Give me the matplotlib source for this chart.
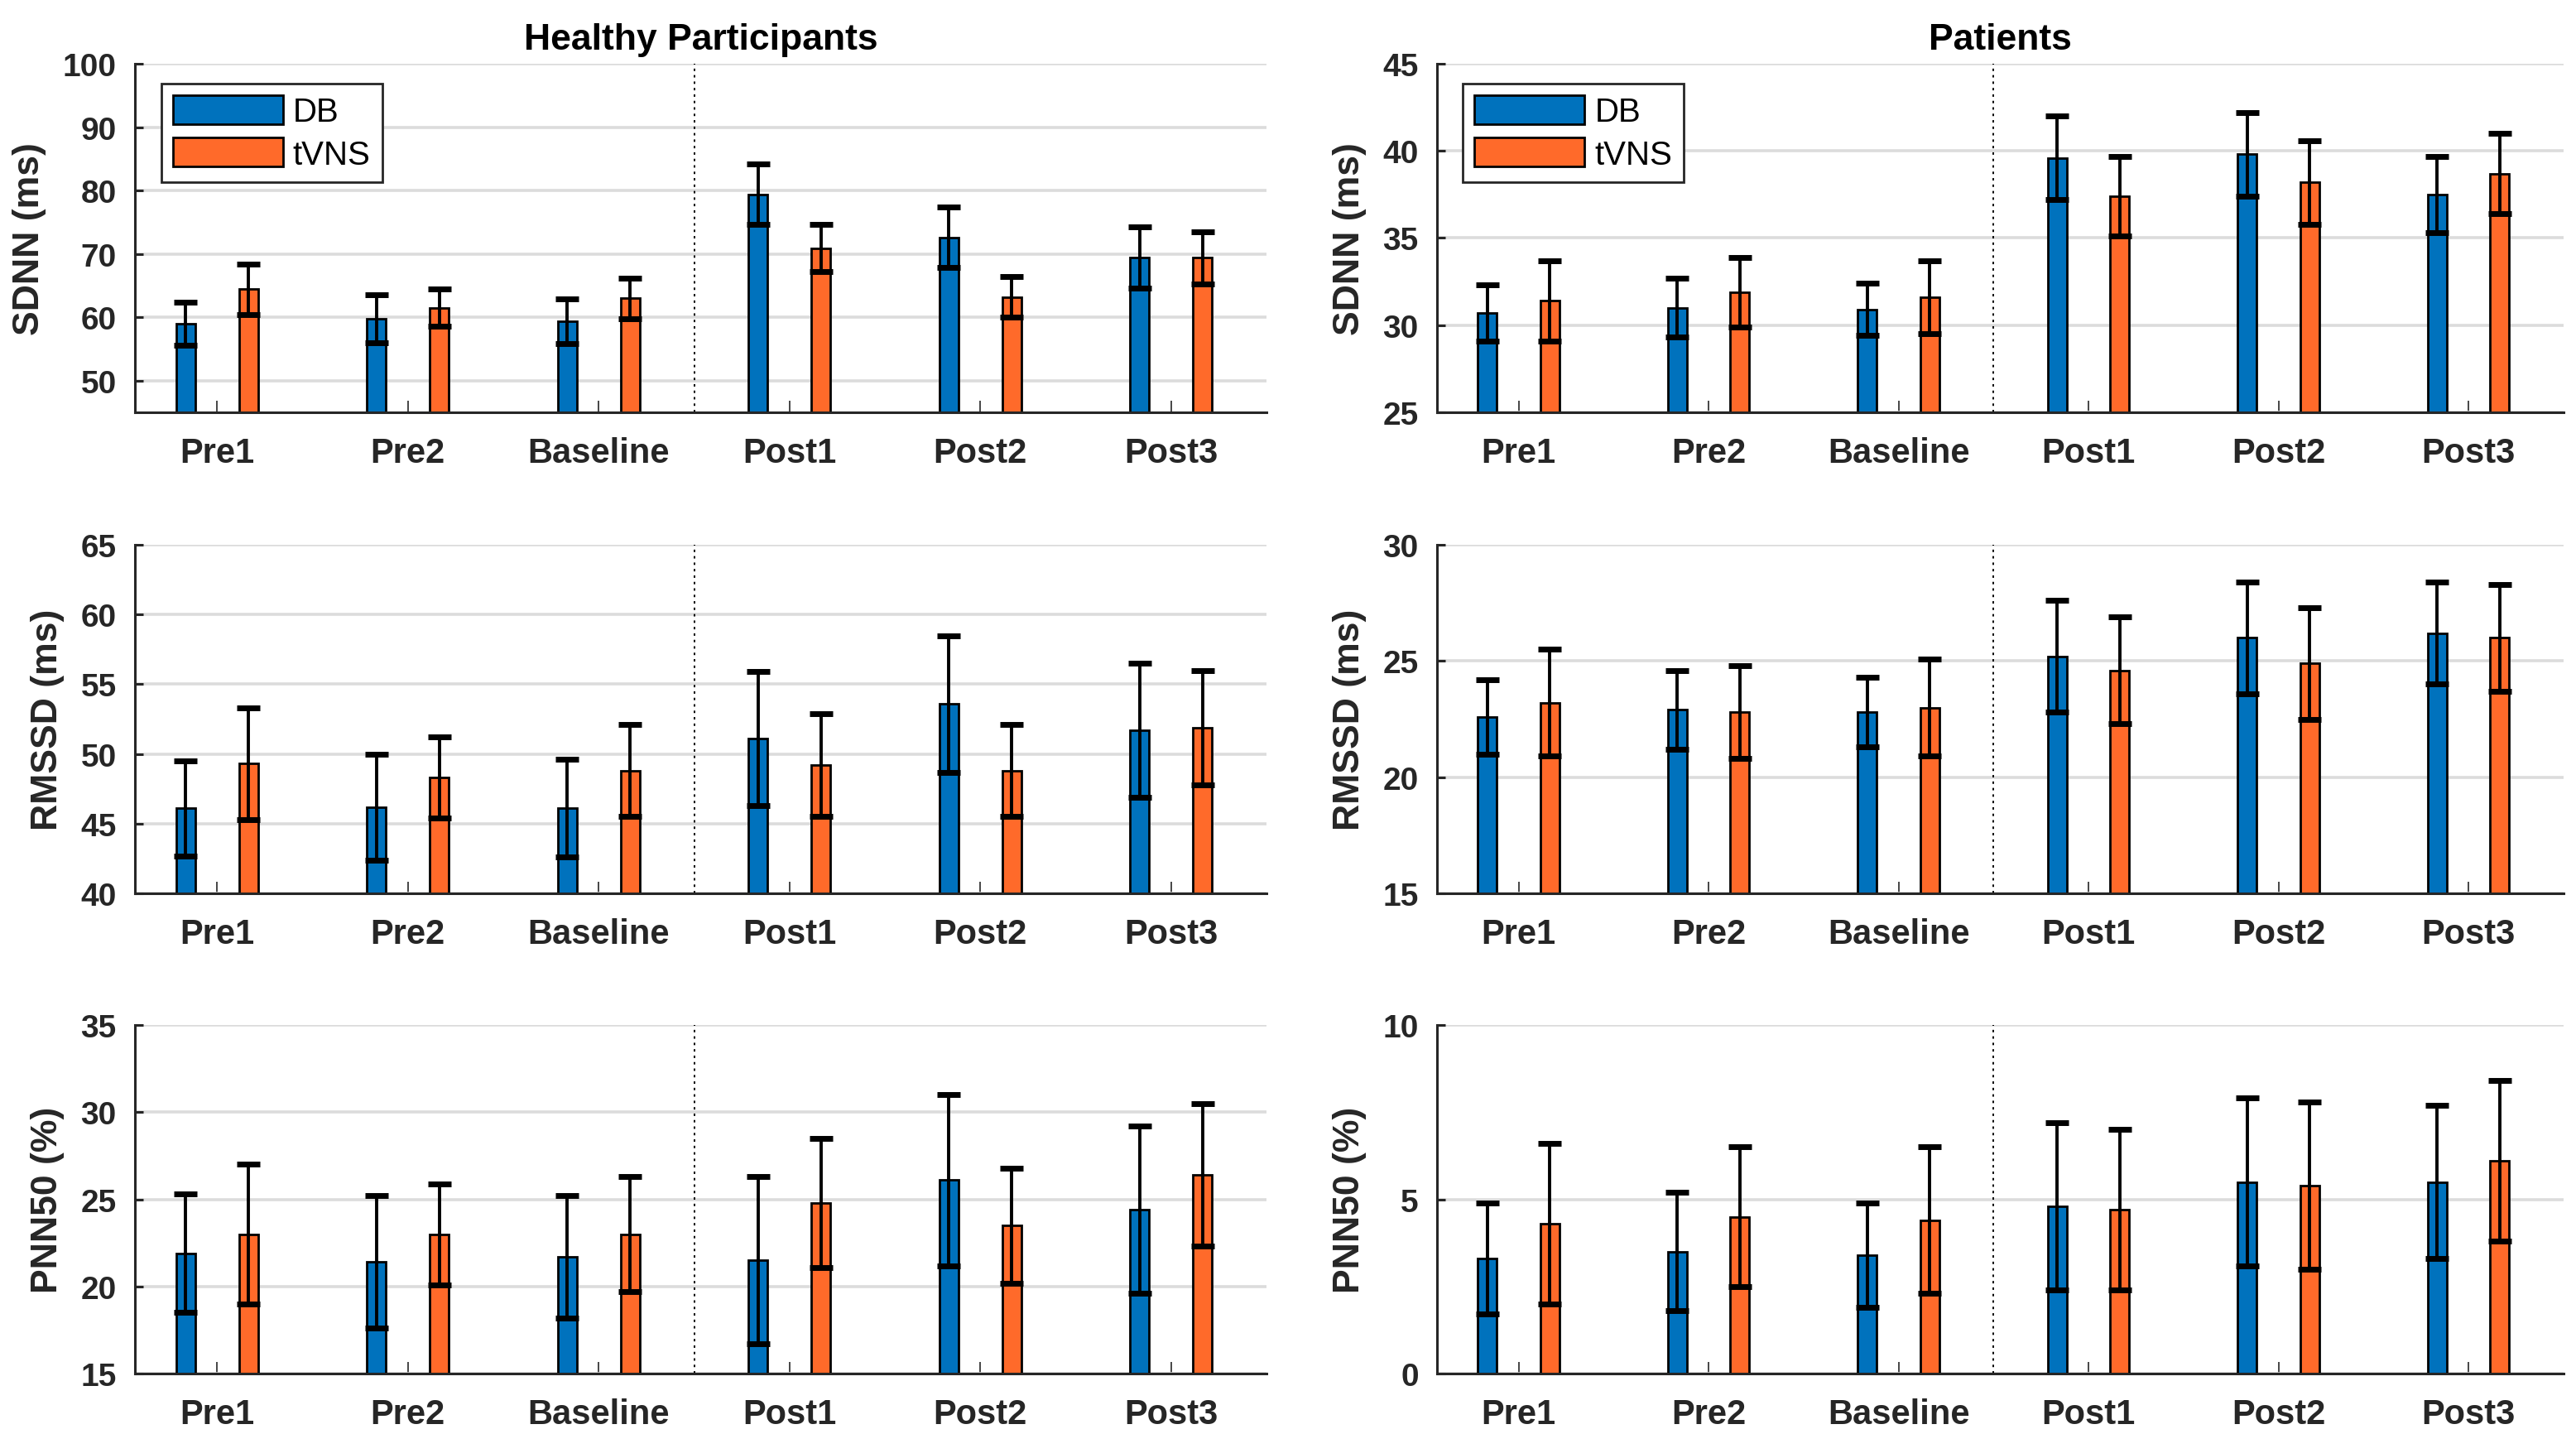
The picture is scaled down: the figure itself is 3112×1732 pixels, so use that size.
import numpy as np
import matplotlib
matplotlib.use("Agg")
import matplotlib.pyplot as plt

plt.rcParams['font.family'] = ['Liberation Sans', 'DejaVu Sans']

# Sessions on the x axis
sessions = ["Pre1", "Pre2", "Baseline", "Post1", "Post2", "Post3"]
conditions = ["DB", "tVNS"]

# Healthy participants (mean, error)
h_sdnn_db = [59.0, 59.8, 59.4, 79.4, 72.6, 69.4]
h_sdnn_db_err = [3.4, 3.8, 3.5, 4.8, 4.8, 4.8]
h_sdnn_tv = [64.4, 61.5, 63.0, 70.9, 63.2, 69.4]
h_sdnn_tv_err = [4.0, 2.9, 3.2, 3.7, 3.2, 4.1]

h_rmssd_db = [46.1, 46.2, 46.1, 51.1, 53.6, 51.7]
h_rmssd_db_err = [3.4, 3.8, 3.5, 4.8, 4.9, 4.8]
h_rmssd_tv = [49.3, 48.3, 48.8, 49.2, 48.8, 51.9]
h_rmssd_tv_err = [4.0, 2.9, 3.3, 3.7, 3.3, 4.1]

h_pnn50_db = [21.9, 21.4, 21.7, 21.5, 26.1, 24.4]
h_pnn50_db_err = [3.4, 3.8, 3.5, 4.8, 4.9, 4.8]
h_pnn50_tv = [23.0, 23.0, 23.0, 24.8, 23.5, 26.4]
h_pnn50_tv_err = [4.0, 2.9, 3.3, 3.7, 3.3, 4.1]

# Patients (mean, error)
p_sdnn_db = [30.7, 31.0, 30.9, 39.6, 39.8, 37.5]
p_sdnn_db_err = [1.6, 1.7, 1.5, 2.4, 2.4, 2.2]
p_sdnn_tv = [31.4, 31.9, 31.6, 37.4, 38.2, 38.7]
p_sdnn_tv_err = [2.3, 2.0, 2.1, 2.3, 2.4, 2.3]

p_rmssd_db = [22.6, 22.9, 22.8, 25.2, 26.0, 26.2]
p_rmssd_db_err = [1.6, 1.7, 1.5, 2.4, 2.4, 2.2]
p_rmssd_tv = [23.2, 22.8, 23.0, 24.6, 24.9, 26.0]
p_rmssd_tv_err = [2.3, 2.0, 2.1, 2.3, 2.4, 2.3]

p_pnn50_db = [3.3, 3.5, 3.4, 4.8, 5.5, 5.5]
p_pnn50_db_err = [1.6, 1.7, 1.5, 2.4, 2.4, 2.2]
p_pnn50_tv = [4.3, 4.5, 4.4, 4.7, 5.4, 6.1]
p_pnn50_tv_err = [2.3, 2.0, 2.1, 2.3, 2.4, 2.3]

COL_DB = "#0072BD"
COL_TV = "#FF6A2A"
DARK = "#262626"


def draw_panel(ax, db, db_err, tv, tv_err, ylim, yticks, ylabel, title=None, legend=False):
    x = np.arange(1, len(sessions) + 1)
    off = 0.165
    w = 0.1
    ax.bar(x - off, db, w, color=COL_DB, edgecolor="k", linewidth=2.0, label=conditions[0], zorder=2)
    ax.bar(x + off, tv, w, color=COL_TV, edgecolor="k", linewidth=2.0, label=conditions[1], zorder=2)
    for xs, m, e in [(x - off, db, db_err), (x + off, tv, tv_err)]:
        ax.errorbar(xs, m, yerr=e, fmt="none", ecolor="k", elinewidth=2.8,
                    capsize=10, capthick=5, zorder=3)
    ax.axvline(3.5, color="k", linestyle=(0, (1.5, 2.5)), linewidth=1.4, zorder=1.5)

    ax.set_xlim(0.57, 6.5)
    ax.set_ylim(*ylim)
    ax.set_yticks(yticks)
    ax.set_xticks(x)
    ax.set_xticklabels(sessions, fontsize=30, fontweight="bold", color=DARK)
    for lab in ax.get_yticklabels():
        lab.set_fontsize(28)
        lab.set_fontweight("bold")
        lab.set_color(DARK)
    ax.tick_params(axis="x", direction="in", length=10, width=1.2, color=DARK, pad=21)
    ax.tick_params(axis="y", direction="in", length=7, width=2.2, color=DARK, pad=16)

    ax.set_axisbelow(True)
    ax.yaxis.grid(True, color="#DCDCDC", linewidth=2.6)
    for s in ["top", "right"]:
        ax.spines[s].set_visible(False)
    for s in ["left", "bottom"]:
        ax.spines[s].set_linewidth(2.2)
        ax.spines[s].set_color(DARK)

    ax.set_ylabel(ylabel, fontsize=32, fontweight="bold", color=DARK, labelpad=14)
    if title:
        ax.set_title(title, fontsize=32, fontweight="bold", color="k", pad=13)
    if legend:
        leg = ax.legend(loc="upper left", bbox_to_anchor=(0.023, 0.943), borderaxespad=0,
                        fontsize=29, handlelength=3.3, handleheight=0.95, labelspacing=0.3,
                        handletextpad=0.3, borderpad=0.35, fancybox=False, framealpha=1)
        leg.get_frame().set_edgecolor(DARK)
        leg.get_frame().set_linewidth(2.0)


fig = plt.figure(figsize=(31.12, 17.33), dpi=100)

rows_bottom = [0.7121, 0.3768, 0.0421]
h = 0.2429
left_x, left_w = 0.0524, 0.4393
right_x, right_w = 0.5578, 0.4373

healthy = [
    (h_sdnn_db, h_sdnn_db_err, h_sdnn_tv, h_sdnn_tv_err, (45, 100), np.arange(50, 101, 10), "SDNN (ms)"),
    (h_rmssd_db, h_rmssd_db_err, h_rmssd_tv, h_rmssd_tv_err, (40, 65), np.arange(40, 66, 5), "RMSSD (ms)"),
    (h_pnn50_db, h_pnn50_db_err, h_pnn50_tv, h_pnn50_tv_err, (15, 35), np.arange(15, 36, 5), "PNN50 (%)"),
]
patients = [
    (p_sdnn_db, p_sdnn_db_err, p_sdnn_tv, p_sdnn_tv_err, (25, 45), np.arange(25, 46, 5), "SDNN (ms)"),
    (p_rmssd_db, p_rmssd_db_err, p_rmssd_tv, p_rmssd_tv_err, (15, 30), np.arange(15, 31, 5), "RMSSD (ms)"),
    (p_pnn50_db, p_pnn50_db_err, p_pnn50_tv, p_pnn50_tv_err, (0, 10), np.arange(0, 11, 5), "PNN50 (%)"),
]

for i in range(3):
    ax = fig.add_axes([left_x, rows_bottom[i], left_w, h])
    draw_panel(ax, *healthy[i], title="Healthy Participants" if i == 0 else None, legend=(i == 0))
    ax = fig.add_axes([right_x, rows_bottom[i], right_w, h])
    draw_panel(ax, *patients[i], title="Patients" if i == 0 else None, legend=(i == 0))

fig.savefig("out.png", dpi=100)
